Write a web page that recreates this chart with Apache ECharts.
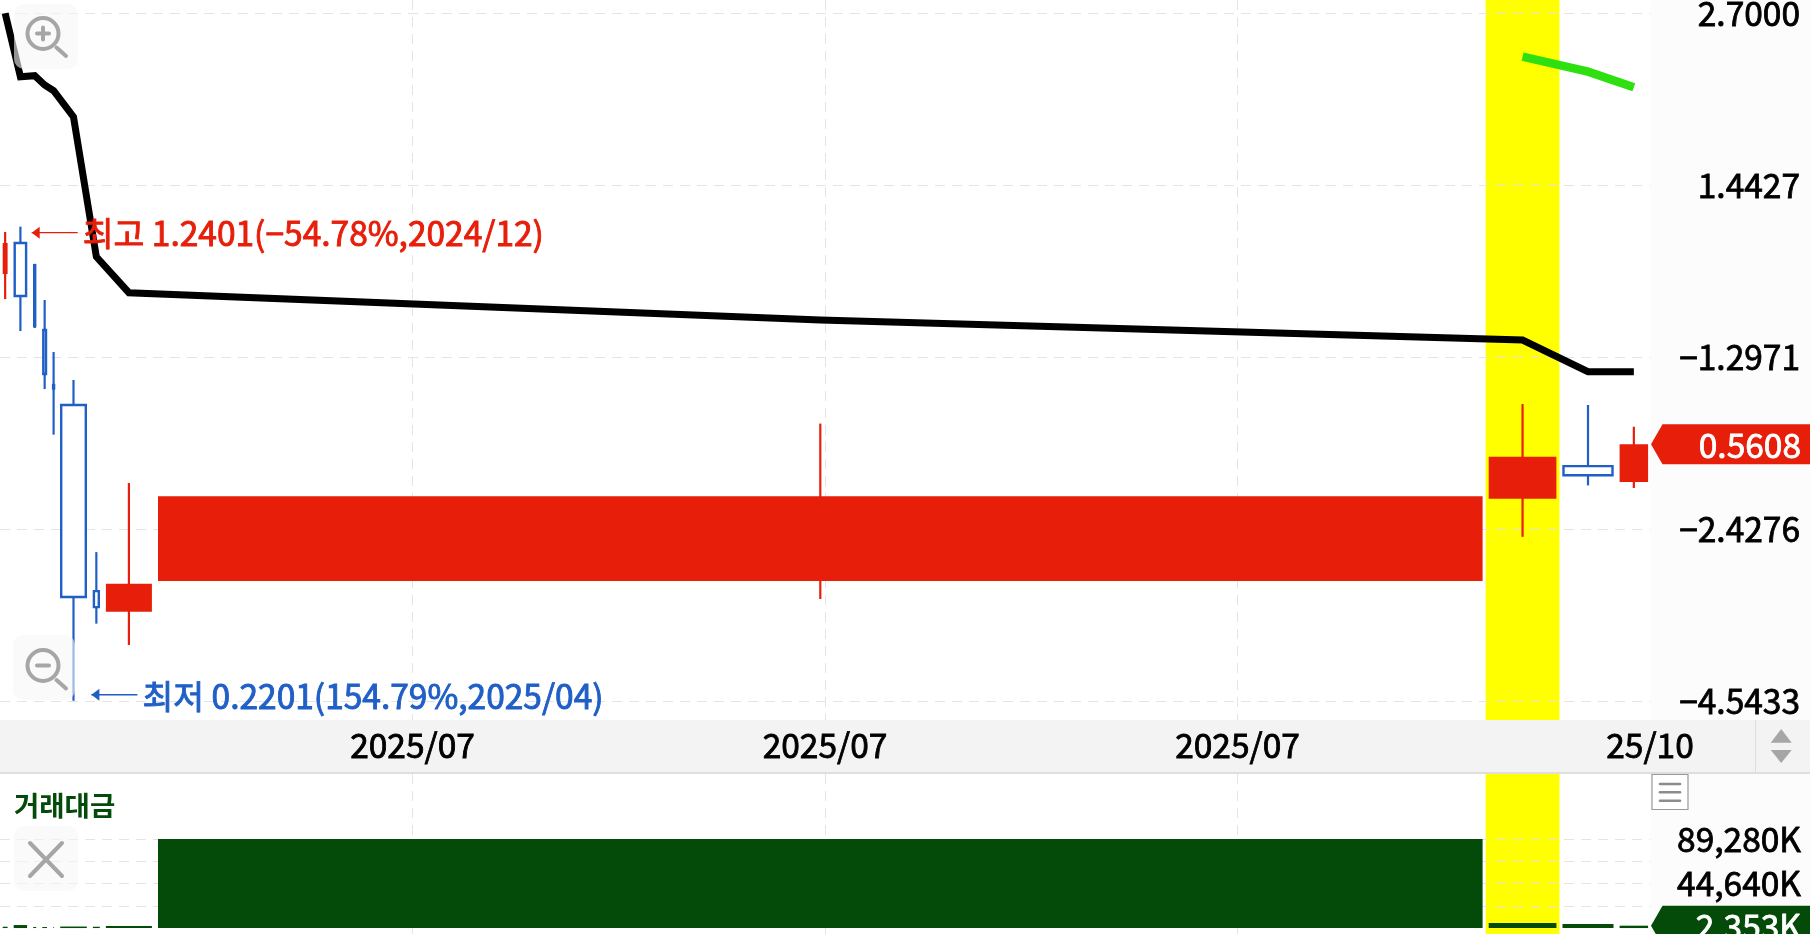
<!DOCTYPE html>
<html>
<head>
<meta charset="utf-8">
<title>chart</title>
<style>
html, body { margin: 0; padding: 0; background: #fff; }
#main { width: 1810px; height: 934px; }
</style>
<script src="https://cdn.jsdelivr.net/npm/echarts@6/dist/echarts.min.js"></script>
</head>
<body>
<div id="main"></div>
<script>
// 캔들 데이터
var barShares = [4.9, 13.4, 3, 4.7, 1, 26.6, 6.9, 46, 1324.6, 67.7, 51, 28.5];
var opens  = [1.0435, 1.1684, 1.0781, 0.8508, 0.6960, 0.6472, 0.3283, 0.3045, 0.3405, 0.4598, 0.5179, 0.4887];
var closes = [1.1684, 0.9629, 0.8632, 0.7248, 0.6875, 0.3213, 0.3097, 0.3372, 0.4641, 0.5359, 0.5008, 0.5608];
var highs  = [1.2164, 1.2401, 1.0781, 0.9490, 0.7852, 0.7090, 0.3785, 0.4869, 0.6048, 0.6494, 0.6472, 0.5978];
var lows   = [0.9524, 0.8474, 0.8570, 0.6860, 0.5808, 0.2201, 0.2916, 0.2698, 0.3190, 0.4002, 0.4827, 0.4782];
var blackLine = [2.70, 2.1427, 2.1505, 2.0788, 2.0361, 1.8498, 1.1113, 0.9747, 0.8824, 0.8203, 0.7306, 0.7306];
var greenLine = [null, null, null, null, null, null, null, null, null, 2.3047, 2.1821, 2.0614];
var amounts = [1300, 3000, 1000, 1000, 900, 1500, 1300, 2000, 89280, 5000, 4000, 2353];

var priceTicks = [0.2201, 0.4119, 0.7709, 1.4427, 2.7];
var priceLabels = ['\u22124.5433', '\u22122.4276', '\u22121.2971', '1.4427', '2.7000'];
var amountTicks = [22320, 44640, 66960, 89280];
var amountLabelTicks = [44640, 89280];
var amountLabels = ['44,640K', '89,280K'];
var timeLabels = ['2025/07', '2025/07', '2025/07', '25/10'];

var highNote = '최고 1.2401(\u221254.78%,2024/12)';
var lowNote = '최저 0.2201(154.79%,2025/04)';
var paneTitle = '거래대금';
var lastPrice = 0.5608;
var lastPriceText = '0.5608';
var lastAmount = 2353;
var lastAmountText = '2,353K';
var highlightIndex = 9;

var RED = '#e61e0a', BLUE = '#1f5fc6', DARKGREEN = '#044a08', GRAY = '#a6a6a6';
var FONT = '"Noto Sans CJK KR", "Noto Sans", sans-serif';
var GAP = 6.1;

// 폭을 누적해서 x 위치 계산
var barStarts = [];
var pos = 2.7;
barShares.forEach(function(w) {
	barStarts.push(pos);
	pos += w + GAP;
});
function center(i) {
	return barStarts[i] + barShares[i] / 2;
}

var candleData = barShares.map(function(w, i) {
	return [barStarts[i], w, opens[i], closes[i], lows[i], highs[i]];
});
var amountData = barShares.map(function(w, i) {
	return [barStarts[i], w, amounts[i]];
});
var blackData = blackLine.map(function(v, i) {
	return [center(i), v];
});
var greenData = [];
greenLine.forEach(function(v, i) {
	if (v !== null) greenData.push([center(i), v]);
});
var noteData = [
	[1, highs[1], highNote, RED, 6],
	[5, lows[5], lowNote, BLUE, -6]
];

function pickLabel(ticks, labels, v) {
	var best = 0;
	ticks.forEach(function(t, i) {
		if (Math.abs(t - v) < Math.abs(ticks[best] - v)) best = i;
	});
	return labels[best];
}

function renderCandle(params, api) {
	var x0 = api.value(0), w = api.value(1);
	var o = api.value(2), c = api.value(3);
	var up = c >= o;
	var color = up ? RED : BLUE;
	var left = api.coord([x0, o])[0];
	var right = api.coord([x0 + w, o])[0];
	var mid = (left + right) / 2;
	var yo = api.coord([x0, o])[1];
	var yc = api.coord([x0, c])[1];
	var yl = api.coord([x0, api.value(4)])[1];
	var yh = api.coord([x0, api.value(5)])[1];
	return {
		type: 'group',
		children: [{
			type: 'line',
			shape: { x1: mid, y1: yh, x2: mid, y2: yl },
			style: { stroke: color, lineWidth: 2.2 }
		}, {
			type: 'rect',
			shape: { x: left + (up ? 0 : 1), y: Math.min(yo, yc), width: right - left - (up ? 0 : 2), height: Math.abs(yo - yc) },
			style: up ? { fill: color } : { fill: '#fff', stroke: color, lineWidth: 2.4 }
		}]
	};
}

function renderAmount(params, api) {
	var x0 = api.value(0), w = api.value(1);
	var p0 = api.coord([x0, 0]);
	var p1 = api.coord([x0 + w, api.value(2)]);
	return {
		type: 'rect',
		shape: { x: p0[0], y: p1[1], width: p1[0] - p0[0], height: p0[1] - p1[1] },
		style: { fill: DARKGREEN }
	};
}

function renderBand(params, api) {
	var i = highlightIndex;
	var cs = params.coordSys;
	var a = api.coord([barStarts[i] - GAP / 2, api.value(0)])[0];
	var b = api.coord([barStarts[i] + barShares[i] + GAP / 2, api.value(0)])[0];
	return {
		type: 'rect',
		shape: { x: a, y: cs.y, width: b - a, height: cs.height },
		style: { fill: '#ffff00' }
	};
}

// 최고/최저 표시
function renderNote(params, api) {
	var i = api.value(0);
	var color = noteData[params.dataIndex][3];
	var off = noteData[params.dataIndex][4];
	var p = api.coord([barStarts[i] + barShares[i], api.value(1)]);
	var tip = p[0] + 4.6;
	var y = p[1] + off;
	return {
		type: 'group',
		children: [{
			type: 'line',
			shape: { x1: tip, y1: y, x2: tip + 46, y2: y },
			style: { stroke: color, lineWidth: 1.4 }
		}, {
			type: 'polygon',
			shape: { points: [[tip, y], [tip + 8, y - 6], [tip + 8, y + 6]] },
			style: { fill: color }
		}, {
			type: 'text',
			x: tip + 51,
			y: y + 1,
			style: { text: noteData[params.dataIndex][2], fill: color, stroke: color, lineWidth: 0.9, font: '33.5px ' + FONT, textAlign: 'left', textVerticalAlign: 'middle' }
		}]
	};
}

// 오른쪽 현재값 태그
function makeTag(text, color) {
	return function(params, api) {
		var y = api.coord([0, api.value(0)])[1];
		var h = 20;
		return {
			type: 'group',
			children: [{
				type: 'polygon',
				shape: { points: [[1651, y], [1662.5, y - h], [1810, y - h], [1810, y + h], [1662.5, y + h]] },
				style: { fill: color }
			}, {
				type: 'text',
				x: 1801,
				y: y + 1,
				style: { text: text, fill: '#fff', stroke: '#fff', lineWidth: 0.8, font: '33.5px ' + FONT, textAlign: 'right', textVerticalAlign: 'middle' }
			}]
		};
	};
}

function button(x, y, w, h) {
	return { type: 'rect', z: 20, shape: { x: x, y: y, width: w, height: h, r: 10 }, style: { fill: 'rgba(246,246,246,0.6)' } };
}
function stroke(x1, y1, x2, y2, width, color) {
	return { type: 'line', z: 21, shape: { x1: x1, y1: y1, x2: x2, y2: y2 }, style: { stroke: color || GRAY, lineWidth: width || 4, lineCap: 'round' } };
}
function ring(cx, cy) {
	return { type: 'circle', z: 21, shape: { cx: cx, cy: cy, r: 15.5 }, style: { fill: 'none', stroke: GRAY, lineWidth: 4 } };
}

var chrome = [
	{ type: 'rect', z: -5, shape: { x: 1650, y: 0, width: 160, height: 934 }, style: { fill: '#fcfcfc' } },
	{ type: 'rect', z: -4, shape: { x: 0, y: 720, width: 1810, height: 52 }, style: { fill: '#f3f3f3' } },
	{ type: 'rect', z: -4, shape: { x: 0, y: 772, width: 1810, height: 2 }, style: { fill: '#dedede' } },
	{ type: 'rect', z: -4, shape: { x: 1755, y: 720, width: 1, height: 52 }, style: { fill: '#dedede' } },
	{ type: 'polygon', z: 21, shape: { points: [[1770.7, 742.7], [1781.2, 729], [1791.7, 742.7]] }, style: { fill: GRAY } },
	{ type: 'polygon', z: 21, shape: { points: [[1770.7, 750], [1791.7, 750], [1781.2, 763]] }, style: { fill: GRAY } },
	button(14, 4, 64, 65),
	ring(43, 33.5), stroke(37, 33.5, 49, 33.5), stroke(43, 27.5, 43, 39.5), stroke(56.5, 47.5, 66, 56),
	button(13, 635, 62, 65),
	ring(43, 665.5), stroke(37, 665.5, 49, 665.5), stroke(56.5, 680, 66, 688.5),
	button(14, 826, 64, 65),
	stroke(30, 843, 62, 876), stroke(62, 843, 30, 876),
	{ type: 'rect', z: 20, shape: { x: 1652, y: 774.5, width: 36, height: 35 }, style: { fill: '#fff', stroke: '#999999', lineWidth: 1.2 } },
	stroke(1660, 784, 1680, 784, 2.6, '#8c8c8c'), stroke(1660, 792.3, 1680, 792.3, 2.6, '#8c8c8c'), stroke(1660, 800.7, 1680, 800.7, 2.6, '#8c8c8c'),
	{ type: 'text', z: 22, x: 14, y: 806, style: { text: paneTitle, fill: DARKGREEN, font: 'bold 27.5px ' + FONT, textAlign: 'left', textVerticalAlign: 'middle' } }
];

var gridLine = { show: true, lineStyle: { color: '#e4e4e4', type: [10, 7], width: 1 } };
var axisText = { fontFamily: FONT, fontSize: 33.5, color: '#000', textBorderColor: '#000', textBorderWidth: 0.8 };

var myChart = echarts.init(document.getElementById('main'));
myChart.setOption({
	animation: false,
	backgroundColor: '#fff',
	graphic: { elements: chrome },
	grid: [
		{ left: 0, top: 0, width: 1650, height: 720, outerBoundsMode: 'none' },
		{ left: 0, top: 774, width: 1650, height: 160, outerBoundsMode: 'none' }
	],
	xAxis: [{
		type: 'value', gridIndex: 0, min: 0, max: 1650, interval: 412.5, z: 1,
		axisLine: { show: false }, axisTick: { show: false },
		splitLine: { show: true, showMinLine: false, showMaxLine: false, lineStyle: gridLine.lineStyle },
		axisLabel: Object.assign({
			show: true, margin: 9, showMinLabel: false, showMaxLabel: true,
			hideOverlap: false,
			formatter: function(v) {
				return timeLabels[Math.round(v / 412.5) - 1] || '';
			}
		}, axisText)
	}, {
		type: 'value', gridIndex: 1, min: 0, max: 1650, interval: 412.5, z: 1,
		axisLine: { show: false }, axisTick: { show: false }, axisLabel: { show: false },
		splitLine: { show: true, showMinLine: false, showMaxLine: false, lineStyle: gridLine.lineStyle }
	}],
	yAxis: [{
		type: 'log', gridIndex: 0, position: 'right', min: 0.2052, max: 2.834, z: 1,
		axisLine: { show: false },
		axisTick: { show: false, customValues: priceTicks },
		splitLine: gridLine,
		axisLabel: Object.assign({
			customValues: priceTicks, align: 'right', margin: 150,
			formatter: function(v) {
				return pickLabel(priceTicks, priceLabels, v);
			}
		}, axisText)
	}, {
		type: 'value', gridIndex: 1, position: 'right', min: -5972, max: 154273, z: 1,
		axisLine: { show: false },
		axisTick: { show: false, customValues: amountTicks },
		splitLine: gridLine,
		axisLabel: Object.assign({
			customValues: amountLabelTicks, align: 'right', margin: 151,
			formatter: function(v) {
				return pickLabel(amountLabelTicks, amountLabels, v);
			}
		}, axisText)
	}],
	series: [{
		type: 'custom', xAxisIndex: 0, yAxisIndex: 0, z: 0, silent: true,
		renderItem: renderBand, data: [[1]], encode: { x: [], y: [] }
	}, {
		type: 'custom', xAxisIndex: 1, yAxisIndex: 1, z: 0, silent: true,
		renderItem: renderBand, data: [[1]], encode: { x: [], y: [] }
	}, {
		type: 'custom', xAxisIndex: 0, yAxisIndex: 0, z: 3,
		renderItem: renderCandle, data: candleData, encode: { x: [0], y: [2, 3, 4, 5] }
	}, {
		type: 'line', xAxisIndex: 0, yAxisIndex: 0, z: 4, data: blackData, showSymbol: false,
		lineStyle: { color: '#000', width: 7, cap: 'butt', join: 'miter' }
	}, {
		type: 'line', xAxisIndex: 0, yAxisIndex: 0, z: 4, data: greenData, showSymbol: false,
		lineStyle: { color: '#2ee010', width: 8.5, cap: 'butt', join: 'miter' }
	}, {
		type: 'custom', xAxisIndex: 1, yAxisIndex: 1, z: 3,
		renderItem: renderAmount, data: amountData, encode: { x: [0], y: [2] }
	}, {
		type: 'custom', xAxisIndex: 0, yAxisIndex: 0, z: 5, silent: true,
		renderItem: renderNote, data: noteData.map(function(d) { return [d[0], d[1]]; }), encode: { x: [], y: [1] }
	}, {
		type: 'custom', xAxisIndex: 0, yAxisIndex: 0, z: 6, silent: true, clip: false,
		renderItem: makeTag(lastPriceText, RED), data: [[lastPrice]], encode: { x: [], y: [0] }
	}, {
		type: 'custom', xAxisIndex: 1, yAxisIndex: 1, z: 6, silent: true, clip: false,
		renderItem: makeTag(lastAmountText, DARKGREEN), data: [[lastAmount]], encode: { x: [], y: [0] }
	}]
});
</script>
</body>
</html>
